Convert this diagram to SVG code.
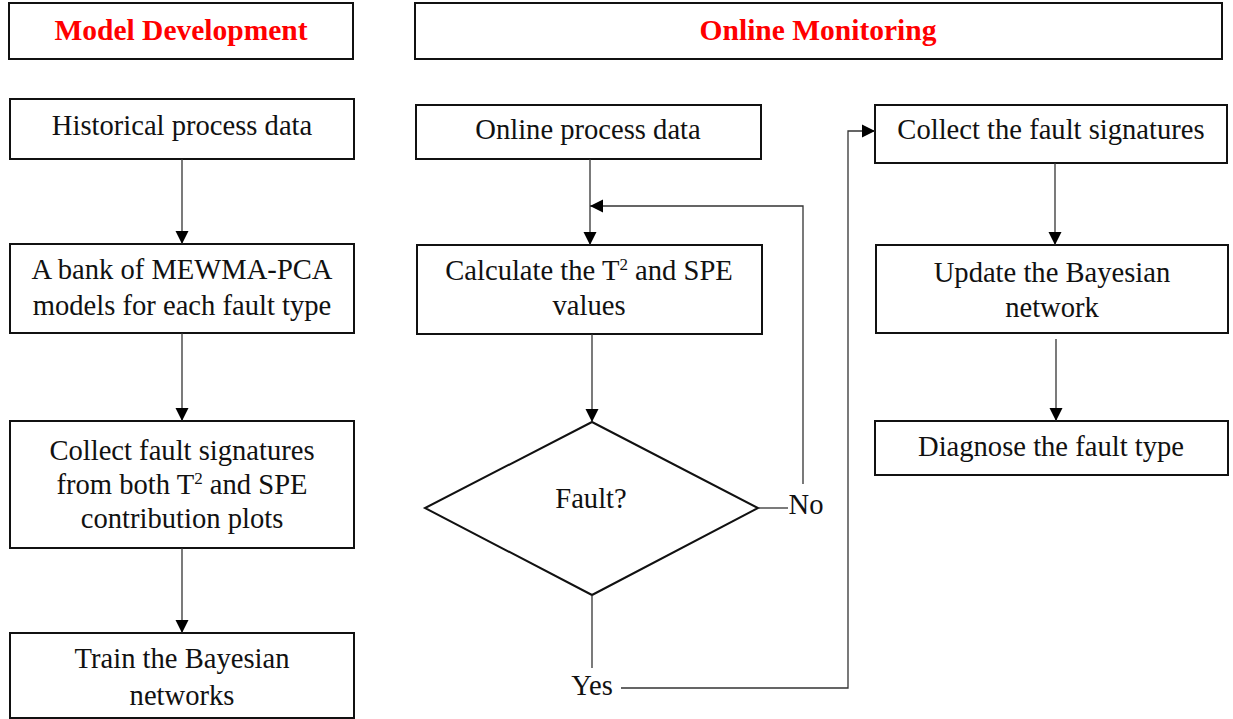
<svg xmlns="http://www.w3.org/2000/svg" width="1233" height="719" viewBox="0 0 1233 719">
<defs>
<style>
.box{fill:#fff;stroke:#111;stroke-width:2}
.t{font-family:"Liberation Serif","Times New Roman",serif;font-size:28.6px;fill:#111;text-anchor:middle}
.h{font-family:"Liberation Serif","Times New Roman",serif;font-size:29.5px;font-weight:bold;fill:#ff0000;text-anchor:middle}
.sup{font-size:17px}
.c{fill:none;stroke:#333;stroke-width:1.3}
.ca{fill:none;stroke:#333;stroke-width:1.3;marker-end:url(#arr)}
</style>
<marker id="arr" viewBox="0 0 12 12" refX="12" refY="6" markerWidth="13" markerHeight="14" markerUnits="userSpaceOnUse" orient="auto">
<path d="M0,0 L12,6 L0,12 z" fill="#000"/>
</marker>
</defs>
<rect width="1233" height="719" fill="#fff"/>

<g id="hdr-model">
<rect class="box" x="9" y="3" width="344" height="56"/>
<text class="h" x="181" y="40">Model Development</text>
</g>
<g id="hdr-online">
<rect class="box" x="415" y="3" width="807" height="56"/>
<text class="h" x="818" y="40">Online Monitoring</text>
</g>

<g id="n-hist">
<rect class="box" x="10" y="99" width="344" height="60"/>
<text class="t" x="182" y="135">Historical process data</text>
</g>
<g id="n-bank">
<rect class="box" x="10" y="244" width="344" height="89"/>
<text class="t" x="182" y="279">A bank of MEWMA-PCA</text>
<text class="t" x="182" y="315">models for each fault type</text>
</g>
<g id="n-collect">
<rect class="box" x="10" y="421" width="344" height="127"/>
<text class="t" x="182" y="460">Collect fault signatures</text>
<text class="t" x="182" y="494">from both T<tspan class="sup" dy="-10">2</tspan><tspan dy="10"> and SPE</tspan></text>
<text class="t" x="182" y="528">contribution plots</text>
</g>
<g id="n-train">
<rect class="box" x="10" y="633" width="344" height="85"/>
<text class="t" x="182" y="668">Train the Bayesian</text>
<text class="t" x="182" y="705">networks</text>
</g>

<g id="n-online">
<rect class="box" x="416" y="105" width="345" height="54"/>
<text class="t" x="588" y="139">Online process data</text>
</g>
<g id="n-calc">
<rect class="box" x="417" y="245" width="345" height="89"/>
<text class="t" x="589" y="280">Calculate the T<tspan class="sup" dy="-10">2</tspan><tspan dy="10"> and SPE</tspan></text>
<text class="t" x="589" y="315">values</text>
</g>
<g id="n-fault">
<polygon points="592,422 758,508 592,595 425,508" fill="#fff" stroke="#111" stroke-width="2"/>
<text class="t" x="591" y="508">Fault?</text>
</g>

<g id="n-sig">
<rect class="box" x="875" y="105" width="352" height="58"/>
<text class="t" x="1051" y="139">Collect the fault signatures</text>
</g>
<g id="n-update">
<rect class="box" x="876" y="245" width="352" height="88"/>
<text class="t" x="1052" y="282">Update the Bayesian</text>
<text class="t" x="1052" y="317">network</text>
</g>
<g id="n-diag">
<rect class="box" x="875" y="421" width="353" height="54"/>
<text class="t" x="1051" y="456">Diagnose the fault type</text>
</g>

<g id="connectors">
<line class="ca" x1="182" y1="159" x2="182" y2="244"/>
<line class="ca" x1="182" y1="333" x2="182" y2="421"/>
<line class="ca" x1="182" y1="548" x2="182" y2="633"/>
<line class="ca" x1="590" y1="159" x2="590" y2="245"/>
<polyline class="ca" points="803,484 803,206 590,206"/>
<line class="ca" x1="592" y1="334" x2="592" y2="422"/>
<line class="c" x1="758" y1="508" x2="788" y2="508"/>
<line class="c" x1="592" y1="595" x2="592" y2="668"/>
<polyline class="ca" points="621,688 848,688 848,131 875,131"/>
<line class="ca" x1="1055" y1="163" x2="1055" y2="245"/>
<line class="ca" x1="1056" y1="339" x2="1056" y2="421"/>
<text class="t" x="806" y="514">No</text>
<text class="t" x="592" y="695">Yes</text>
</g>
</svg>
